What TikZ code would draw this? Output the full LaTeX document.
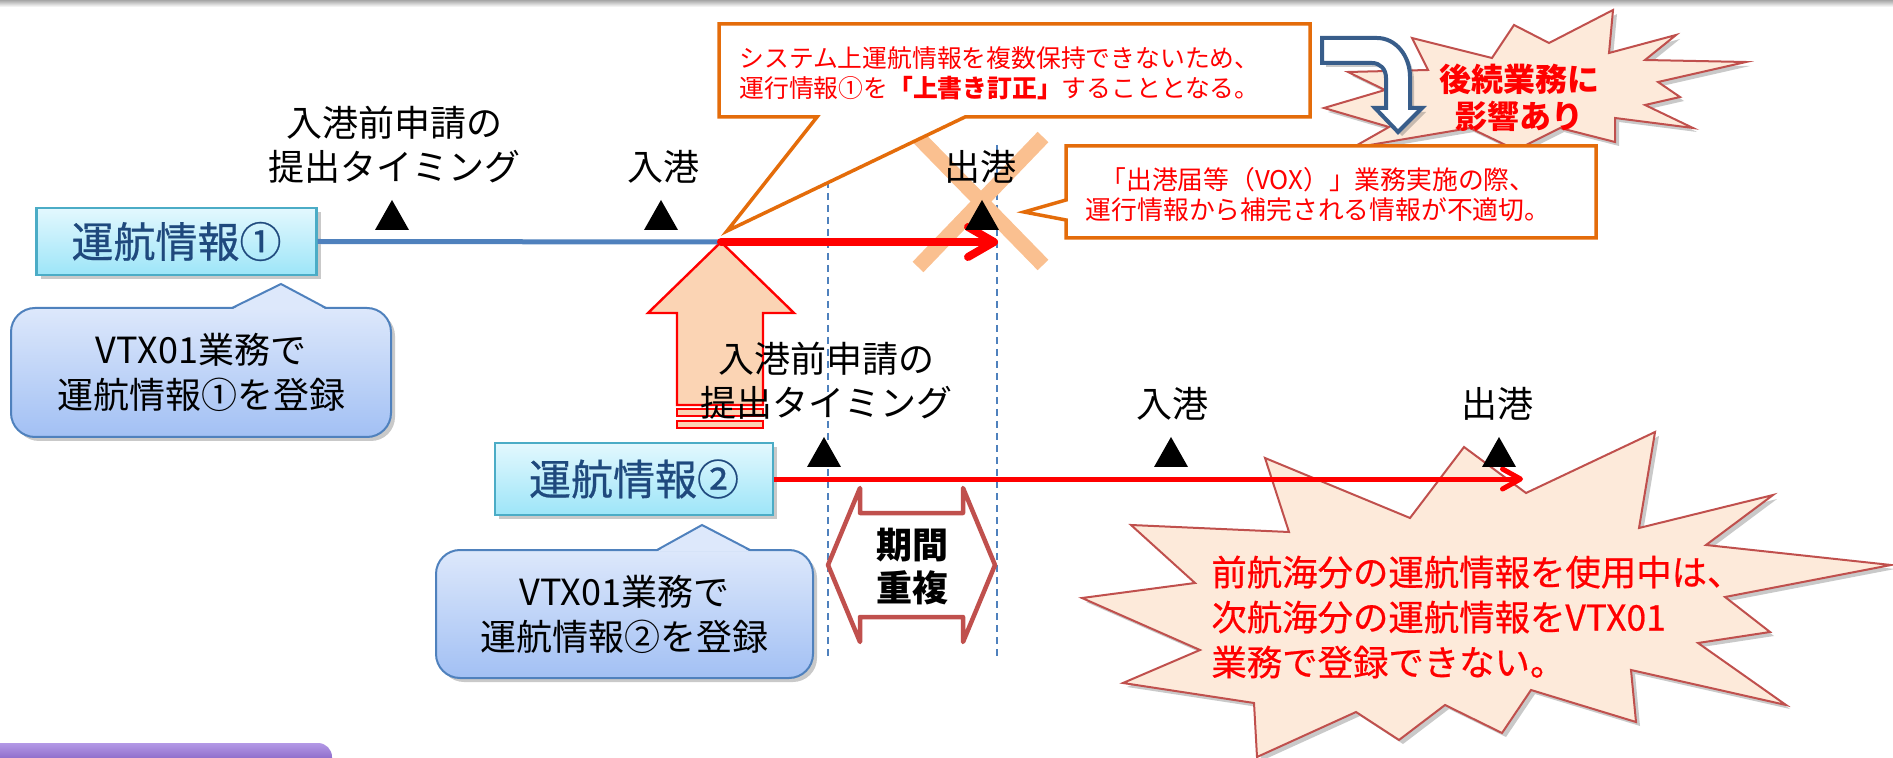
\documentclass[tikz,border=0pt]{standalone}
\usepackage{fontspec}
\setmainfont{Noto Sans CJK JP}
\newfontfamily\medfont[FakeBold=0.6]{Noto Sans CJK JP}
\usetikzlibrary{arrows.meta,shadows}
\definecolor{cyanline}{HTML}{4BACC6}
\definecolor{cyantop}{HTML}{E3F8FE}
\definecolor{cyanbot}{HTML}{9DE5F8}
\definecolor{navy}{HTML}{1F497D}
\definecolor{bubline}{HTML}{4F81BD}
\definecolor{bubtop}{HTML}{DDE8FB}
\definecolor{bubbot}{HTML}{A2C0F4}
\definecolor{noteline}{HTML}{E46C0A}
\definecolor{burstline}{HTML}{C0504D}
\definecolor{burstfill}{HTML}{FDEADA}
\definecolor{xpeach}{HTML}{FAC090}
\definecolor{uppeach}{HTML}{FBD4B4}
\definecolor{lineblue}{HTML}{4F81BD}
\definecolor{uarrow}{HTML}{385D8A}
\definecolor{purptop}{HTML}{B399E6}
\definecolor{purpbot}{HTML}{8C69C8}
\newcommand\tmark[2]{\fill[black] (#1,#2) -- ++(17,30) -- ++(-34,0) -- cycle;}
\begin{document}
\begin{tikzpicture}[x=0.5pt,y=-0.5pt,
  softshadow/.style={drop shadow={shadow xshift=2pt,shadow yshift=-2pt,opacity=0.3,fill=black!70}},
  lbl/.style={inner sep=0pt,align=center,font=\fontsize{18pt}{22pt}\selectfont},
  infobox/.style={draw=cyanline,line width=1.2pt,top color=cyantop,bottom color=cyanbot,inner sep=0pt,text=navy,font=\medfont\fontsize{21pt}{25pt}\selectfont,softshadow},
  bubble/.style={draw=bubline,line width=1pt,rounded corners=12pt,top color=bubtop,bottom color=bubbot,inner sep=0pt,align=center,font=\fontsize{18pt}{22.5pt}\selectfont,softshadow},
  note/.style={draw=noteline,line width=1.75pt,fill=white},
  burst/.style={draw=burstline,line width=1pt,fill=burstfill,softshadow},
  redtext/.style={text=red,inner sep=0pt},
  vdash/.style={draw=lineblue,line width=1pt,dash pattern=on 3.5pt off 2.5pt},
]
\useasboundingbox (0,0) rectangle (1893,758);
% top gray edge
\shade[top color=black!35,bottom color=white] (0,0) rectangle (1893,7);

% lower starburst
\draw[burst] (1265,458) -- (1410,518) -- (1464,447) -- (1526,493) -- (1655,432) -- (1639,528) -- (1773,495) -- (1706,545) -- (1891,565) -- (1725,597) -- (1770,632) -- (1698,643) -- (1786,705) -- (1631,670) -- (1636,722) -- (1531,690) -- (1502,733) -- (1445,705) -- (1399,740) -- (1356,712) -- (1257,757) -- (1254,703) -- (1123,683) -- (1200,650) -- (1082,598) -- (1195,583) -- (1131,525) -- (1289,532) -- cycle;
\node[redtext,anchor=west,align=left,font=\medfont\fontsize{17.7pt}{22.5pt}\selectfont] (warn) at (1211,617) {前航海分の運航情報を使用中は、\\次航海分の運航情報をVTX01\\業務で登録できない。};

% purple bar
\shade[top color=purptop,bottom color=purpbot] (0,743) -- (318,743) arc[start angle=90,end angle=0,radius=7pt] -- (332,760) -- (0,760) -- cycle;

% dashed guides
\coordinate (dA1) at (828,145); \coordinate (dA2) at (828,658);
\coordinate (dB1) at (997,145); \coordinate (dB2) at (997,658);
\draw[vdash] (dA1) -- (dA2);
\draw[vdash] (dB1) -- (dB2);

% cross
\draw[line width=7.5pt,color=xpeach] (918,137) -- (1043,265) (1043,137) -- (918,267);

% upper starburst
\draw[burst] (1613,10) -- (1609,53) -- (1676,35) -- (1645,60) -- (1746,62) -- (1658,82) -- (1680,97) -- (1645,105) -- (1693,128) -- (1615,118) -- (1615,142) -- (1560,128) -- (1516,150) -- (1470,128) -- (1352,148) -- (1389,127) -- (1324,108) -- (1385,90) -- (1348,72) -- (1428,70) -- (1412,38) -- (1492,58) -- (1514,25) -- (1549,43) -- cycle;
\node[redtext,align=center,font=\bfseries\fontsize{16pt}{18.5pt}\selectfont] (impact) at (1519,98) {後続業務に\\影響あり};

% U-turn arrow
\draw[draw=uarrow,line width=2pt,fill=white,softshadow] (1322,38) -- (1377,38) .. controls (1396,38) and (1410,56) .. (1410,77) -- (1410,108) -- (1422,108) -- (1398,132) -- (1375,108) -- (1386,108) -- (1386,78) .. controls (1386,69) and (1380,63) .. (1372,63) -- (1322,63) -- cycle;

% callouts
\draw[note] (719,24) -- (1310,24) -- (1310,117) -- (965,117) -- (727,231) -- (817,117) -- (719,117) -- cycle;
\node[redtext,anchor=west,align=left,font=\fontsize{12.4pt}{15pt}\selectfont] (c1) at (739,73) {システム上運航情報を複数保持できないため、\\運行情報①を\textbf{「上書き訂正」}することとなる。};
\draw[note] (1066,146) -- (1596,146) -- (1596,238) -- (1066,238) -- (1066,220) -- (1024,212) -- (1066,200) -- cycle;
\node[redtext,align=center,font=\fontsize{12.9pt}{15pt}\selectfont] (c2) at (1318,195) {「出港届等（VOX）」業務実施の際、\\運行情報から補完される情報が不適切。};

% big up arrow
\draw[draw=red,line width=1.2pt,fill=uppeach] (721,242) -- (794,313) -- (763,313) -- (763,405) -- (677,405) -- (677,313) -- (648,313) -- cycle;
\draw[draw=red,line width=1.2pt,fill=uppeach] (677,409) rectangle (763,416);
\draw[draw=red,line width=1.2pt,fill=uppeach] (677,421) rectangle (763,428);

% info boxes
\node[infobox,minimum width=140pt,minimum height=33.5pt] (v1) at (176.5,241.5) {運航情報①};
\node[infobox,minimum width=139pt,minimum height=36pt] (v2) at (634,479) {運航情報②};

% timelines
\coordinate (p1in) at (721,242);
\coordinate (p1out) at (998,242);
\coordinate (p2end) at (1523,479);
\draw[lineblue,line width=2.5pt] (v1.east) -- (p1in);
\draw[red,line width=4pt,line cap=round,-{Straight Barb[length=13pt,width=15pt,round]}] (p1in) -- (p1out);
\draw[red,line width=2.5pt,-{Straight Barb[length=9pt,width=10pt,round]}] (v2.east) -- (p2end);

% bubbles
\node[bubble,minimum width=190pt,minimum height=64.5pt] (b1) at (201,372.5) {VTX01業務で\\運航情報①を登録};
\fill[bubtop] (232,309.5) -- (281,284) -- (326,309.5) -- cycle;
\draw[bubline,line width=1pt] (232,308) -- (281,284) -- (326,308);
\node[bubble,minimum width=188.5pt,minimum height=64pt] (b2) at (624.5,614) {VTX01業務で\\運航情報②を登録};
\fill[bubtop] (657,551.5) -- (702,525) -- (750,551.5) -- cycle;
\draw[bubline,line width=1pt] (657,550) -- (702,525) -- (750,550);

% labels and markers
\node[lbl] (ut) at (394,145) {入港前申請の\\提出タイミング};
\node[lbl] (ui) at (663,167) {入港};
\node[lbl] (uo) at (980,167) {出港};
\node[lbl] (lt) at (826,381) {入港前申請の\\提出タイミング};
\node[lbl] (li) at (1172,404) {入港};
\node[lbl] (lo) at (1497,404) {出港};
\tmark{392}{200}
\tmark{661}{200}
\tmark{982}{200}
\tmark{824}{437}
\tmark{1171}{437}
\tmark{1499}{437}

% overlap double arrow
\draw[draw=burstline,line width=2.25pt,fill=white,line join=round] (828,565) -- (860,488) -- (860,513) -- (963,513) -- (963,488) -- (995,565) -- (963,642) -- (963,617) -- (860,617) -- (860,642) -- cycle;
\node[inner sep=0pt,align=center,font=\bfseries\fontsize{18pt}{21.5pt}\selectfont] (ov) at (912,567) {期間\\重複};
\end{tikzpicture}
\end{document}
